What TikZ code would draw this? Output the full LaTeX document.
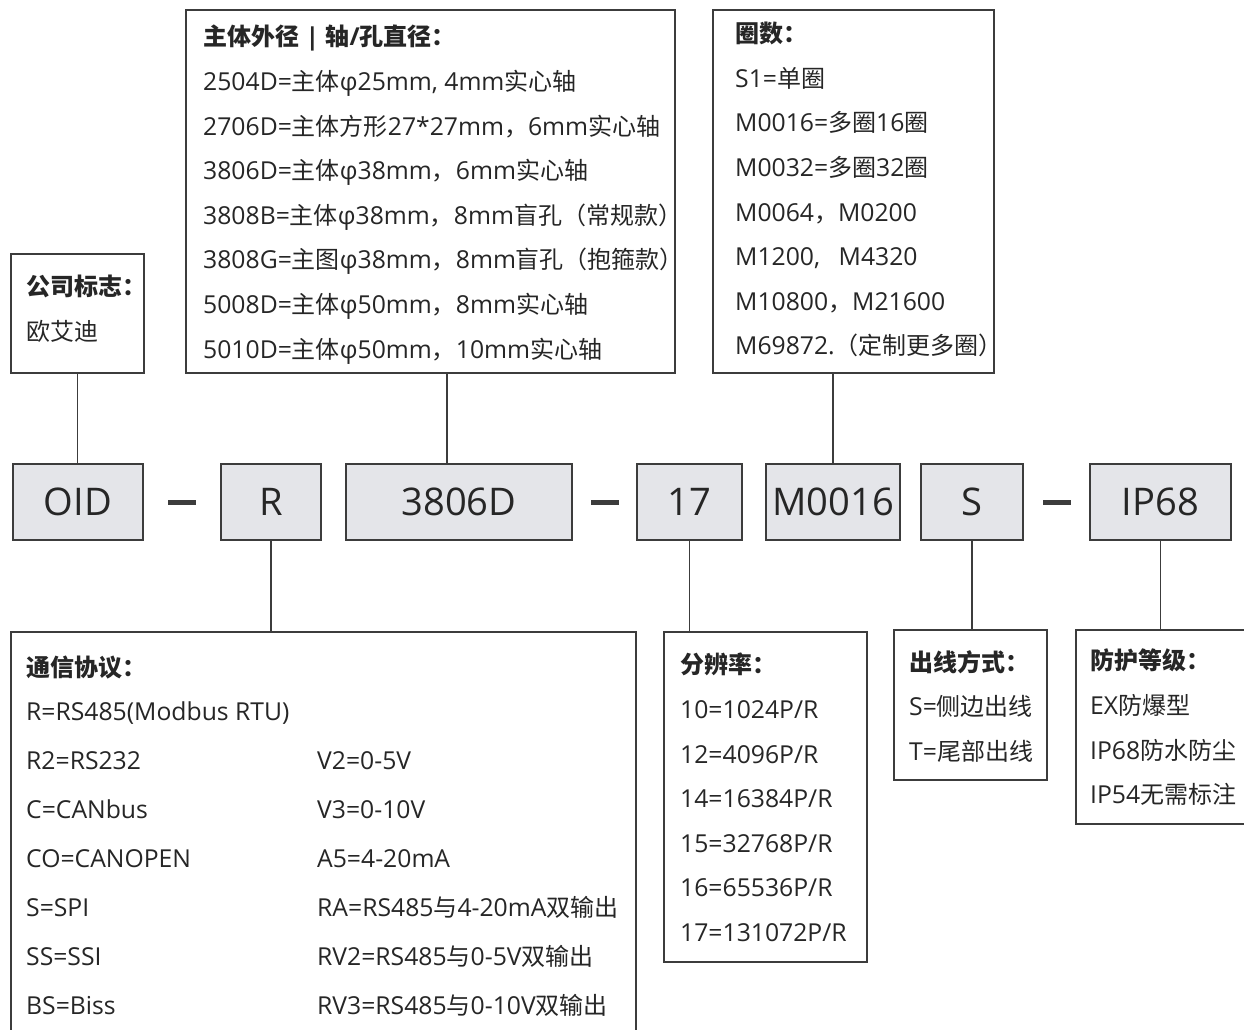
\documentclass[tikz,border=0pt]{standalone}
\usepackage{fontspec}
\setmainfont[Scale=1.03]{Open Sans}
\newfontfamily\cjkfont{Noto Sans CJK SC}
\usetikzlibrary{positioning, calc}

% Chinese characters are set in Noto Sans CJK
\XeTeXinterchartokenstate=1
\newXeTeXintercharclass\cjkclass
\newcount\cjkc
\def\setcjkrange#1#2{\cjkc=#1\relax
  \loop\XeTeXcharclass\cjkc=\cjkclass\relax
  \ifnum\cjkc<#2\relax\advance\cjkc by 1\relax\repeat}
\setcjkrange{"3000}{"303F}
\setcjkrange{"4E00}{"9FFF}
\setcjkrange{"FF00}{"FFEF}
\XeTeXinterchartoks 0 \cjkclass = {\begingroup\cjkfont}
\XeTeXinterchartoks 4095 \cjkclass = {\begingroup\cjkfont}
\XeTeXinterchartoks \cjkclass 0 = {\endgroup}
\XeTeXinterchartoks \cjkclass 4095 = {\endgroup}

\definecolor{linegray}{RGB}{60,60,60}
\definecolor{boxfill}{RGB}{228,229,233}
\definecolor{inkgray}{RGB}{38,38,38}

\newcommand{\twocol}[2]{\makebox[291pt][l]{#1}#2}

\begin{document}
\begin{tikzpicture}[x=1pt, y=-1pt,
    partbox/.style={draw=linegray, line width=1.8pt, fill=boxfill, minimum height=76pt,
      inner sep=0pt, outer sep=0pt, text=inkgray, font=\fontsize{37}{40}\selectfont},
    listbox/.style={draw=linegray, line width=1.8pt, anchor=north west, inner sep=0pt},
    listtxt/.style={anchor=north west, inner sep=0pt, align=left, text=inkgray,
      font=\fontsize{24}{44.6}\selectfont},
    link/.style={draw=linegray, line width=1.8pt},
    hyphenbar/.style={fill=linegray, minimum width=28pt, minimum height=5pt, inner sep=0pt}]
    \useasboundingbox[fill=white] (0,0) rectangle (1244,1029);

    % code row
    \node[partbox, minimum width=130pt] (oid) at (78,502) {OID};
    \node[partbox, minimum width=100pt, right=78pt of oid] (rcode) {R};
    \node[partbox, minimum width=226pt, right=25pt of rcode] (dia) {3806D};
    \node[partbox, minimum width=105pt, right=65pt of dia] (res) {17};
    \node[partbox, minimum width=134pt, right=24pt of res] (turns) {M0016};
    \node[partbox, minimum width=102pt, right=21pt of turns] (outlet) {S};
    \node[partbox, minimum width=141pt, right=67pt of outlet] (ip) {IP68};

    \node[hyphenbar] (h1) at ($(oid.east)!.5!(rcode.west)$) {};
    \node[hyphenbar] (h2) at ($(dia.east)!.5!(res.west)$) {};
    \node[hyphenbar] (h3) at ($(outlet.east)!.5!(ip.west)$) {};

    % explanation boxes
    \node[listbox, minimum width=133pt, minimum height=119pt] (compbox) at (10,253) {};
    \node[listbox, minimum width=489pt, minimum height=363pt] (diabox) at (185,9) {};
    \node[listbox, minimum width=281pt, minimum height=363pt] (turnbox) at (712,9) {};
    \node[listbox, minimum width=625pt, minimum height=420pt] (commbox) at (10,631) {};
    \node[listbox, minimum width=203pt, minimum height=330pt] (resbox) at (663,631) {};
    \node[listbox, minimum width=153pt, minimum height=150pt] (outbox) at (893,629) {};
    \node[listbox, minimum width=190pt, minimum height=194pt] (ipbox) at (1075,629) {};

    \node[listtxt] (comptxt) at (26,275) {\textbf{公司标志：}\\欧艾迪};
    \node[listtxt] (diatxt) at (203,25) {\textbf{主体外径 | 轴/孔直径：}\\
        2504D=主体φ25mm, 4mm实心轴\\
        2706D=主体方形27*27mm，6mm实心轴\\
        3806D=主体φ38mm，6mm实心轴\\
        3808B=主体φ38mm，8mm盲孔（常规款）\\
        3808G=主图φ38mm，8mm盲孔（抱箍款）\\
        5008D=主体φ50mm，8mm实心轴\\
        5010D=主体φ50mm，10mm实心轴};
    \node[listtxt] (turntxt) at (735,22) {\textbf{圈数：}\\
        S1=单圈\\
        M0016=多圈16圈\\
        M0032=多圈32圈\\
        M0064，M0200\\
        M1200,\hspace{0.75em}M4320\\
        M10800，M21600\\
        M69872.（定制更多圈）};
    \node[listtxt, font=\fontsize{24}{49}\selectfont] (commtxt) at (26,656) {\textbf{通信协议：}\\[-5pt]
        R=RS485(Modbus RTU)\\
        \twocol{R2=RS232}{V2=0-5V}\\
        \twocol{C=CANbus}{V3=0-10V}\\
        \twocol{CO=CANOPEN}{A5=4-20mA}\\
        \twocol{S=SPI}{RA=RS485与4-20mA双输出}\\
        \twocol{SS=SSI}{RV2=RS485与0-5V双输出}\\
        \twocol{BS=Biss}{RV3=RS485与0-10V双输出}};
    \node[listtxt] (restxt) at (680,653) {\textbf{分辨率：}\\
        10=1024P/R\\
        12=4096P/R\\
        14=16384P/R\\
        15=32768P/R\\
        16=65536P/R\\
        17=131072P/R};
    \node[listtxt] (outtxt) at (909,650) {\textbf{出线方式：}\\S=侧边出线\\T=尾部出线};
    \node[listtxt] (iptxt) at (1090,649) {\textbf{防护等级：}\\EX防爆型\\IP68防水防尘\\IP54无需标注};

    % connectors
    \draw[link] (compbox.south) -- (compbox.south |- oid.north);
    \draw[link] ([xshift=-12pt]dia.north) -- ([xshift=-12pt]dia.north |- diabox.south);
    \draw[link] (turns.north) -- (turns.north |- turnbox.south);
    \draw[link] (rcode.south) -- (rcode.south |- commbox.north);
    \draw[link] (res.south) -- (res.south |- resbox.north);
    \draw[link] (outlet.south) -- (outlet.south |- outbox.north);
    \draw[link] (ip.south) -- (ip.south |- ipbox.north);
\end{tikzpicture}
\end{document}
